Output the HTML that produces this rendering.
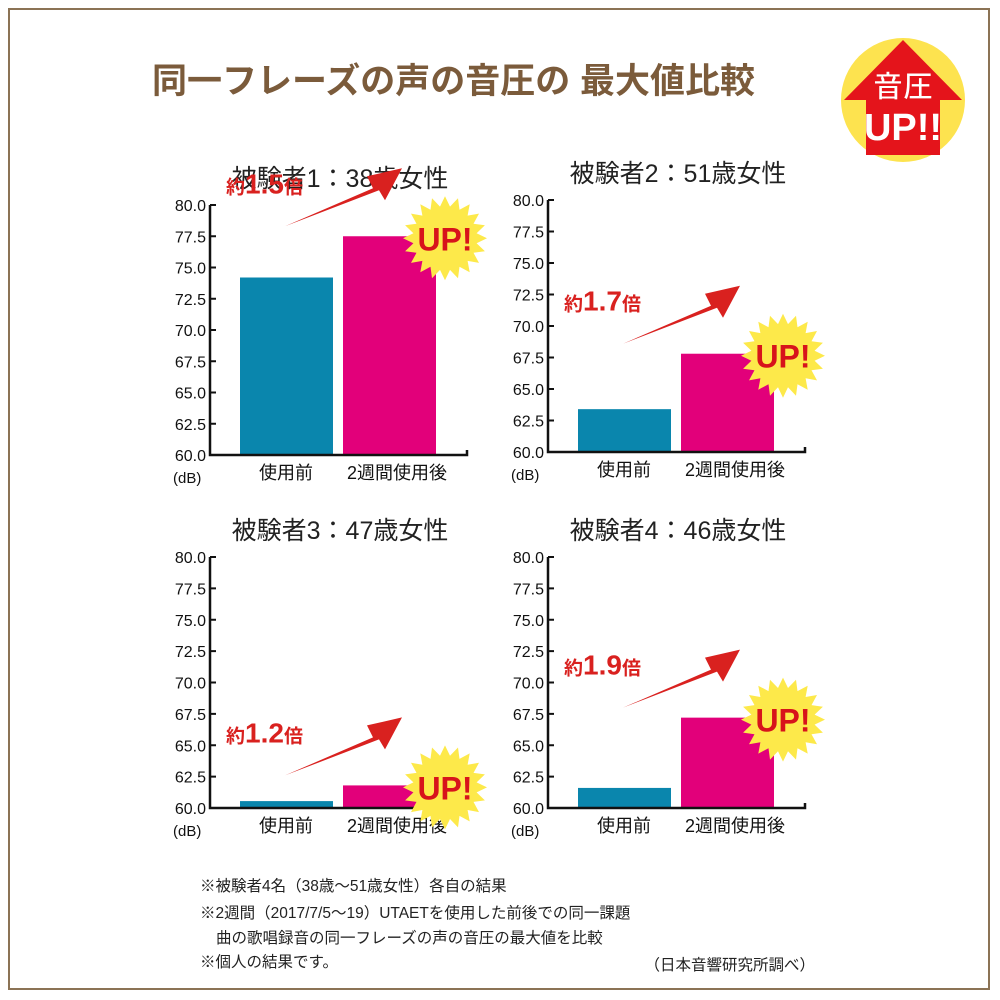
<!DOCTYPE html>
<html><head><meta charset="utf-8"><style>
html,body{margin:0;padding:0;background:#fff;}
#wrap{position:relative;width:1000px;height:1000px;overflow:hidden;font-family:"Liberation Sans","Noto Sans CJK JP",sans-serif;}
#frame{position:absolute;left:8px;top:8px;width:982px;height:982px;border:2px solid #8b7355;box-sizing:border-box;}
</style></head><body>
<div id="wrap">
<div id="frame"></div>
<svg id="svg" width="1000" height="1000" style="position:absolute;left:0;top:0">
<text x="152" y="93" font-size="35" font-weight="bold" fill="#7b5b3b" font-family="Liberation Sans,Noto Sans CJK JP,sans-serif">同一フレーズの声の音圧の 最大値比較</text>
<g>
<circle cx="903" cy="100" r="62" fill="#fde34f"/>
<polygon points="903,40 962,100 940,100 940,155 866,155 866,100 844,100" fill="#e4141b"/>
<text x="903" y="97" font-size="30" font-weight="bold" fill="#fff" text-anchor="middle" stroke="#e4141b" stroke-width="1">音圧</text>
<text x="903" y="140" font-size="38" font-weight="bold" fill="#fff" text-anchor="middle">UP!!</text>
</g>
<g id="charts"></g>
<g font-size="15.5" fill="#222">
<text x="200" y="891">※被験者4名（38歳〜51歳女性）各自の結果</text>
<text x="200" y="918">※2週間（2017/7/5〜19）UTAETを使用した前後での同一課題</text>
<text x="216" y="943">曲の歌唱録音の同一フレーズの声の音圧の最大値を比較</text>
<text x="200" y="967">※個人の結果です。</text>
<text x="815" y="970" text-anchor="end">（日本音響研究所調べ）</text>
</g>
</svg>
</div>
<script>
const chartTitles = ["被験者1：38歳女性","被験者2：51歳女性","被験者3：47歳女性","被験者4：46歳女性"];
const beforeValues = [74.2, 63.4, 60.55, 61.6];
const afterValues = [77.5, 67.8, 61.8, 67.2];
const ratioLabels = ["1.5","1.7","1.2","1.9"];
const categories = ["使用前","2週間使用後"];
const tickLabels = ["60.0","62.5","65.0","67.5","70.0","72.5","75.0","77.5","80.0"];
const yMin = 60, yMax = 80;

const NS = "http://www.w3.org/2000/svg";
const root = document.getElementById("charts");
function mk(tag, attrs, parent){const e=document.createElementNS(NS,tag);for(const k in attrs)e.setAttribute(k,attrs[k]);parent.appendChild(e);return e;}
const layouts = [
 {ax:210, top:205, bot:455},
 {ax:548, top:200, bot:452},
 {ax:210, top:557, bot:808},
 {ax:548, top:557, bot:808}
];
function starPts(cx,cy,r1,r2,n){let p=[];for(let i=0;i<n*2;i++){const r=i%2?r2:r1;const a=Math.PI*i/n;p.push((cx+r*Math.cos(a)).toFixed(1)+","+(cy+r*Math.sin(a)).toFixed(1));}return p.join(" ");}
layouts.forEach((L,i)=>{
  const g = mk("g",{},root);
  
  
  const y = v => L.bot - (v - yMin)/(yMax - yMin)*(L.bot - L.top);
  const t = mk("text",{x:L.ax+130,y:L.top-18,"font-size":25,"text-anchor":"middle",fill:"#222"},g);
  t.textContent = chartTitles[i];
  
  
  tickLabels.forEach(tl=>{
    const v=parseFloat(tl);
    const tx=mk("text",{x:L.ax-4,y:y(v)+6,"font-size":16,"text-anchor":"end",fill:"#111"},g);
    tx.textContent=tl;
    
    
    mk("line",{x1:L.ax,x2:L.ax+6,y1:y(v),y2:y(v),stroke:"#111","stroke-width":2},g);
  });
  const u=mk("text",{x:L.ax-37,y:L.bot+28,"font-size":15,fill:"#111"},g);
  u.textContent="(dB)";
  
  
  const b1=mk("rect",{x:L.ax+30,y:y(beforeValues[i]),width:93,height:L.bot-y(beforeValues[i]),fill:"#0a86ad"},g);
  
  
  const ay=y(afterValues[i]);
  const b2=mk("rect",{x:L.ax+133,y:ay,width:93,height:L.bot-ay,fill:"#e2007a"},g);
  
  
  mk("polyline",{points:`${L.ax},${L.top} ${L.ax},${L.bot} ${L.ax+257},${L.bot} ${L.ax+257},${L.bot-5}`,fill:"none",stroke:"#111","stroke-width":2.5},g);
  categories.forEach((c,j)=>{
    const ct=mk("text",{x:L.ax+76+j*103+(j?8:0),y:L.bot+24,"font-size":18,"text-anchor":"middle",fill:"#111"},g);
    ct.textContent=c;
    
    
  });
  // UP starburst near after bar top
  const sy = ay + 2, sx = L.ax+235;
  const st=mk("polygon",{points:starPts(sx,sy,42,32,20),fill:"#fde94a"},g);
  
  
  const ut=mk("text",{x:sx,y:sy+12,"font-size":32,"font-weight":"bold","text-anchor":"middle",fill:"#d7141b"},g);
  ut.textContent="UP!";
  
  
  // arrow + ratio
  const ry = Math.min(y(beforeValues[i]), ay) - 55;
  const ax0=L.ax+75, ay0=ry+45;
  const ar=mk("polygon",{points:`${ax0},${ay0} ${ax0+88},${ay0-38} ${ax0+82},${ay0-50} ${ax0+117},${ay0-58} ${ax0+100},${ay0-26} ${ax0+94},${ay0-36}`,fill:"#d9211f"},g);
  
  
  const rt=mk("text",{x:L.ax+16,y:ry+12,"font-size":19,"font-weight":"bold",fill:"#d9211f"},g);
  
  
  const s1=mk("tspan",{},rt);s1.textContent="約";
  const s2=mk("tspan",{"font-size":28},rt);s2.textContent=ratioLabels[i];
  const s3=mk("tspan",{},rt);s3.textContent="倍";
});
</script>
</body></html>
